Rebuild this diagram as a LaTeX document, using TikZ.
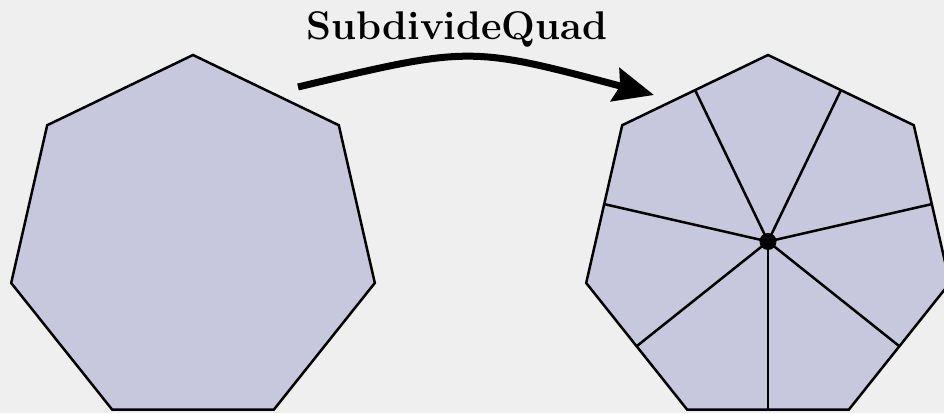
\documentclass[tikz,border=0pt]{standalone}
\usepackage{tikz}
\usetikzlibrary{arrows.meta, positioning, shapes.geometric}
\usepackage{xcolor}
\definecolor{bgcol}{HTML}{EFEFEF}
\definecolor{facecol}{HTML}{C7C7DD}

\begin{document}
\begin{tikzpicture}[x=1pt, y=1pt,
    heptagon/.style={draw, fill=facecol, line width=2.5pt, regular polygon, regular polygon sides=7, minimum size=373pt, inner sep=0pt, outer sep=0pt},
    spoke/.style={line width=2.5pt},
    hub/.style={circle, fill=black, inner sep=0pt, minimum size=17pt}]
    \fill[bgcol] (0,0) rectangle (944,413);
    \useasboundingbox (0,0) rectangle (944,413);

    \node[heptagon] (input) at (193,171.5) {};
    \node[heptagon] (output) at (768,171.5) {};
    \foreach \s in {1,...,7}
        \draw[spoke] (output.center) -- (output.side \s);
    \node[hub] (center) at (output.center) {};

    \coordinate (from) at (298,326);
    \coordinate (to) at (654,318);
    \draw[line width=7pt, -{Stealth[length=40pt, width=34pt, inset=5pt]}] (from) .. controls (470,367) .. (to);
    \node (label) at (457,384) {\fontsize{40}{42}\selectfont\bfseries SubdivideQuad};
\end{tikzpicture}
\end{document}
